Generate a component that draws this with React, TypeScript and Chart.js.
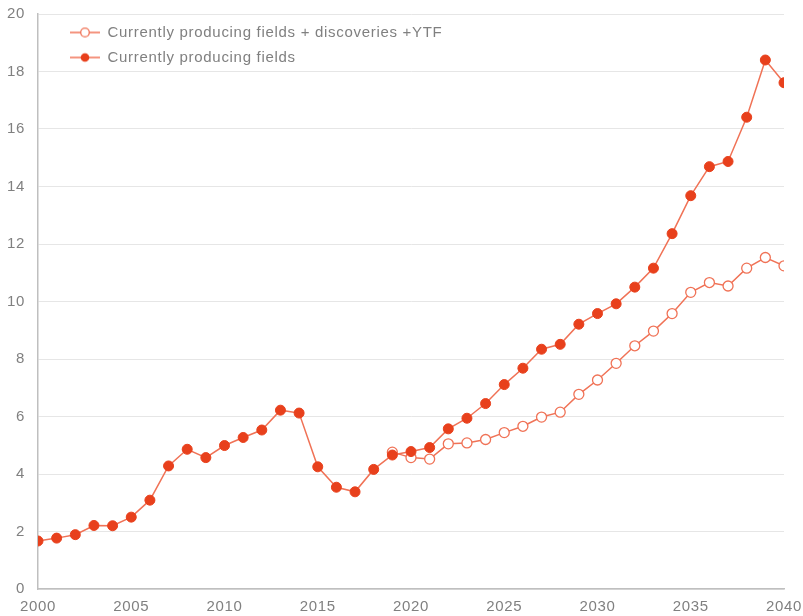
import React, { useEffect, useRef } from "react";
import { Chart, registerables } from "chart.js";

Chart.register(...registerables);

const years = [
  2000, 2001, 2002, 2003, 2004, 2005, 2006, 2007, 2008, 2009,
  2010, 2011, 2012, 2013, 2014, 2015, 2016, 2017, 2018, 2019,
  2020, 2021, 2022, 2023, 2024, 2025, 2026, 2027, 2028, 2029,
  2030, 2031, 2032, 2033, 2034, 2035, 2036, 2037, 2038, 2039, 2040,
];

const producingFields = [
  1.67, 1.77, 1.89, 2.21, 2.2, 2.5, 3.09, 4.28, 4.86, 4.57,
  4.99, 5.27, 5.53, 6.22, 6.12, 4.25, 3.54, 3.38, 4.16, 4.66,
  4.78, 4.92, 5.57, 5.94, 6.45, 7.11, 7.68, 8.34, 8.51, 9.21,
  9.58, 9.92, 10.5, 11.16, 12.36, 13.68, 14.69, 14.87, 16.41, 18.4, 17.61,
];

const producingPlusDiscoveries: (number | null)[] = [
  null, null, null, null, null, null, null, null, null, null,
  null, null, null, null, null, null, null, null, null, 4.76,
  4.57, 4.52, 5.05, 5.08, 5.2, 5.44, 5.66, 5.98, 6.15, 6.77,
  7.27, 7.85, 8.46, 8.97, 9.58, 10.32, 10.66, 10.54, 11.16, 11.53, 11.24,
];

const seriesNames = [
  "Currently producing fields + discoveries +YTF",
  "Currently producing fields",
];

const xTickValues = [2000, 2005, 2010, 2015, 2020, 2025, 2030, 2035, 2040];
const yTickValues = [0, 2, 4, 6, 8, 10, 12, 14, 16, 18, 20];

const LINE = "#f07256";
const DOT = "#e8401c";
const TEXT = "#808080";
const FONT = "'Liberation Sans', Arial, sans-serif";

function legendIcon(filled: boolean): HTMLCanvasElement {
  const c = document.createElement("canvas");
  c.width = 52;
  c.height = 12;
  const ctx = c.getContext("2d")!;
  ctx.strokeStyle = LINE;
  ctx.lineWidth = 1.5;
  ctx.beginPath();
  ctx.moveTo(22, 6);
  ctx.lineTo(52, 6);
  ctx.stroke();
  ctx.beginPath();
  ctx.arc(37, 6, 4.3, 0, Math.PI * 2);
  if (filled) {
    ctx.fillStyle = DOT;
    ctx.fill();
  } else {
    ctx.fillStyle = "#ffffff";
    ctx.fill();
    ctx.lineWidth = 1.3;
    ctx.stroke();
  }
  return c;
}

const spacingPlugin = {
  id: "spacing",
  beforeLayout(chart: any) {
    (chart.ctx as any).letterSpacing = "0.7px";
  },
  beforeDraw(chart: any) {
    (chart.ctx as any).letterSpacing = "0.7px";
  },
};

export default function App() {
  const ref = useRef<HTMLCanvasElement | null>(null);

  useEffect(() => {
    if (!ref.current) return;
    const icons = [legendIcon(false), legendIcon(true)];
    const chart = new Chart(ref.current, {
      type: "line",
      plugins: [spacingPlugin],
      data: {
        datasets: [
          {
            label: seriesNames[1],
            data: years.map((y, i) => ({ x: y, y: producingFields[i] })),
            borderColor: LINE,
            borderWidth: 1.5,
            backgroundColor: DOT,
            pointBackgroundColor: DOT,
            pointBorderColor: DOT,
            pointRadius: 5,
            pointBorderWidth: 1,
            tension: 0,
          },
          {
            label: seriesNames[0],
            data: years.map((y, i) => ({ x: y, y: producingPlusDiscoveries[i] as any })),
            borderColor: LINE,
            borderWidth: 1.5,
            backgroundColor: "#ffffff",
            pointBackgroundColor: "#ffffff",
            pointBorderColor: LINE,
            pointRadius: 5,
            pointBorderWidth: 1.3,
            tension: 0,
            spanGaps: false,
          },
        ],
      },
      options: {
        responsive: false,
        animation: false,
        layout: { padding: { top: 14, right: 19, left: 0, bottom: 0 } },
        plugins: {
          tooltip: { enabled: false },
          legend: {
            position: "chartArea" as any,
            align: "start",
            reverse: true,
            title: { display: true, text: "", font: { size: 10 }, padding: { top: 3, bottom: 0 } },
            labels: {
              usePointStyle: true,
              pointStyleWidth: 52,
              boxHeight: 12,
              padding: 10,
              color: TEXT,
              font: { family: FONT, size: 15 },
              generateLabels: (ch: any) =>
                ch.data.datasets.map((ds: any, i: number) => ({
                  text: ds.label,
                  pointStyle: icons[i === 0 ? 1 : 0],
                  datasetIndex: i,
                  fillStyle: "transparent",
                  strokeStyle: "transparent",
                  lineWidth: 0,
                  hidden: false,
                  fontColor: TEXT,
                })),
            },
          },
        },
        scales: {
          x: {
            type: "linear",
            min: 2000,
            max: 2040,
            afterFit: (s: any) => {
              s.height = 27;
              s.paddingLeft = 0;
              s.paddingRight = 0;
            },
            afterBuildTicks: (s: any) => {
              s.ticks = xTickValues.map((v) => ({ value: v }));
            },
            grid: { display: false, drawTicks: false },
            border: { display: true, color: "#bfbfbf", width: 1.5 },
            ticks: {
              padding: 9,
              color: TEXT,
              maxRotation: 0,
              autoSkip: false,
              font: { family: FONT, size: 15 },
              callback: (v: any) => String(v),
            },
          },
          y: {
            min: 0,
            max: 20,
            afterFit: (s: any) => {
              s.width = 38;
              s.paddingTop = 0;
              s.paddingBottom = 0;
            },
            afterBuildTicks: (s: any) => {
              s.ticks = yTickValues.map((v) => ({ value: v }));
            },
            grid: { color: "#e6e6e6", lineWidth: 1, drawTicks: false },
            border: { display: true, color: "#bfbfbf", width: 1.5 },
            ticks: {
              padding: 13,
              color: TEXT,
              font: { family: FONT, size: 15 },
              callback: (v: any) => String(v),
            },
          },
        },
      },
    });
    return () => chart.destroy();
  }, []);

  return (
    <div style={{ position: "fixed", left: 0, top: 0, width: 803, height: 616, background: "#fff" }}>
      <canvas ref={ref} width={803} height={616} style={{ display: "block" }} />
    </div>
  );
}
